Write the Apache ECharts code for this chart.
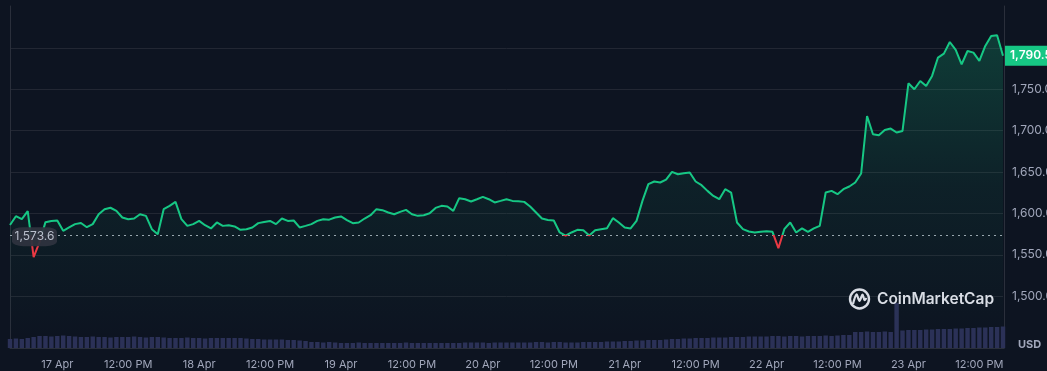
<!DOCTYPE html>
<html><head><meta charset="utf-8">
<script src="https://cdn.jsdelivr.net/npm/echarts@6/dist/echarts.min.js"></script>
<style>html,body{margin:0;padding:0;background:#0d1421;}#c{width:1047px;height:371px;}</style>
</head><body><div id="c"></div>
<script>
// hourly points from 16 Apr 16:00 to 23 Apr 16:00
const startDay = 16, startHour = 16, pointCount = 169;
const categories = [];
for (let i = 0; i < pointCount; i++) {
  const t = startHour + i;
  categories.push((startDay + Math.floor(t / 24)) + ' Apr ' + String(t % 24).padStart(2, '0') + ':00');
}
const prices = [
1586.0,1596.6,1593.0,1602.7,1547.1,1565.2,1589.4,1590.9,1591.5,1578.9,
1583.0,1587.0,1588.4,1583.3,1587.0,1599.0,1605.1,1606.8,1603.0,1595.0,
1593.0,1593.8,1599.0,1597.0,1580.9,1574.9,1605.1,1609.1,1613.9,1593.0,
1584.9,1587.0,1590.9,1585.7,1581.8,1589.0,1584.9,1585.7,1584.2,1580.1,
1580.9,1583.0,1588.2,1589.7,1590.9,1587.0,1593.8,1590.9,1591.4,1583.0,
1584.9,1587.0,1590.9,1593.0,1592.4,1595.0,1596.3,1591.8,1588.2,1589.0,
1593.8,1597.8,1605.1,1603.9,1601.1,1599.0,1601.8,1604.2,1599.0,1597.0,
1597.8,1600.2,1606.6,1609.1,1608.3,1603.0,1618.4,1617.1,1614.4,1617.1,
1619.9,1617.1,1613.2,1615.1,1617.1,1615.1,1614.6,1613.9,1608.3,1601.1,
1593.8,1592.1,1591.4,1576.9,1573.0,1576.9,1580.1,1579.7,1573.2,1579.7,
1580.9,1582.1,1594.2,1589.0,1583.0,1581.8,1590.9,1615.1,1635.3,1638.5,
1637.3,1640.9,1650.1,1647.3,1648.5,1649.4,1638.5,1634.1,1627.2,1621.1,
1617.1,1629.2,1625.2,1589.0,1580.9,1578.1,1576.9,1577.7,1578.5,1577.7,
1558.0,1580.9,1589.0,1576.9,1581.8,1577.7,1581.8,1584.9,1625.2,1627.2,
1623.2,1629.2,1632.5,1637.3,1648.2,1717.7,1695.6,1694.4,1700.8,1702.5,
1697.7,1699.6,1757.2,1750.0,1760.0,1754.0,1766.1,1788.3,1793.1,1807.1,
1797.5,1780.2,1796.2,1794.3,1784.2,1802.3,1814.4,1815.2,1790.5
];
// volume, millions USD
const volumes = [
450,475,450,500,
550,600,600,575,600,625,600,
575,550,550,575,550,550,525,550,550,550,575,550,525,550,550,
525,500,500,500,525,500,500,475,500,500,500,500,500,500,475,
450,450,425,425,425,425,400,400,375,350,
300,300,275,300,275,
250,250,250,275,250,250,250,250,250,250,250,275,250,250,250,250,250,250,250,250,250,275,275,275,275,250,275,275,275,275,
275,275,275,300,300,275,300,300,275,275,275,300,300,300,300,
325,325,325,350,350,375,375,400,400,400,
425,450,450,475,475,500,500,500,525,525,525,550,550,550,575,
575,575,575,600,600,575,600,600,575,600,600,600,625,600,625,650,650,
800,800,825,800,800,825,800,
2250,
875,900,900,900,925,925,950,950,950,975,
975,1000,1000,1025,1025,1050,1050,1075
];
const openPrice = 1573.6;
const lastPrice = 1790.5;
const dayLabels = {17:'17 Apr',18:'18 Apr',19:'19 Apr',20:'20 Apr',21:'21 Apr',22:'22 Apr',23:'23 Apr'};
const noonLabel = '12:00 PM';
const priceLabelRange = [1500, 1750];

const FONT = 'Inter, "Noto Sans", sans-serif';
const labelColor = '#a1a7bb';
const gridColor = '#222733';
const fmt = v => v.toLocaleString('en-US', {minimumFractionDigits: 1, maximumFractionDigits: 1});

const chart = echarts.init(document.getElementById('c'), null, {renderer: 'canvas'});
chart.setOption({
  backgroundColor: '#0d1421',
  animation: false,
  textStyle: {fontFamily: FONT},
  grid: [
    {left: 10, right: 44, top: 6.5, height: 331, outerBoundsMode: 'none', containLabel: false},
    {left: 10, right: 44, top: 298, height: 50, outerBoundsMode: 'none', containLabel: false},
    {left: 10, right: 43, top: 6, height: 342, outerBoundsMode: 'none', containLabel: false}
  ],
  xAxis: [
    {type: 'category', gridIndex: 0, data: categories, boundaryGap: false, show: false},
    {type: 'category', gridIndex: 1, data: categories, boundaryGap: false,
     axisLine: {show: false}, axisTick: {show: false}, splitLine: {show: false},
     axisLabel: {
       color: labelColor, fontSize: 11, fontFamily: FONT, margin: 11, hideOverlap: false,
       interval: (i, v) => { const h = +v.slice(-5, -3); return h === 0 || h === 12; },
       formatter: v => { const h = +v.slice(-5, -3); const d = +v.split(' ')[0]; return h === 0 ? dayLabels[d] : noonLabel; }
     }},
    {type: 'value', gridIndex: 2, position: 'top', min: 0, max: 1, axisLine: {show: true, lineStyle: {color: '#2a2f3b'}},
     axisTick: {show: false}, axisLabel: {show: false}, splitLine: {show: false}}
  ],
  yAxis: [
    {type: 'value', gridIndex: 0, position: 'right', min: 1450, max: 1850, interval: 50,
     axisLine: {show: false}, axisTick: {show: false},
     splitLine: {show: true, showMinLine: false, showMaxLine: false, lineStyle: {color: gridColor, width: 1}},
     axisLabel: {color: labelColor, fontSize: 12, fontFamily: FONT, margin: 9,
       formatter: v => (v >= priceLabelRange[0] && v <= priceLabelRange[1]) ? fmt(v) : ''}},
    {type: 'value', gridIndex: 1, min: 0, max: 2500, show: false},
    {type: 'value', gridIndex: 2, position: 'left', min: 0, max: 1, axisLine: {show: true, lineStyle: {color: '#2a2f3b'}},
     axisTick: {show: false}, axisLabel: {show: false}, splitLine: {show: false}},
    {type: 'value', gridIndex: 2, position: 'right', min: 0, max: 1, axisLine: {show: true, lineStyle: {color: '#2a2f3b'}},
     axisTick: {show: false}, axisLabel: {show: false}, splitLine: {show: false}}
  ],
  visualMap: {
    show: false, type: 'piecewise', seriesIndex: 0, dimension: 1,
    pieces: [{min: 1000, max: openPrice, color: '#ea3943'}, {min: openPrice, max: 3000, color: '#16c784'}],
    outOfRange: {color: '#16c784'}
  },
  series: [
    {
      type: 'line', xAxisIndex: 0, yAxisIndex: 0, data: prices, showSymbol: false, symbol: 'none',
      lineStyle: {width: 2}, z: 5,
      areaStyle: {origin: 'start', color: new echarts.graphic.LinearGradient(0, 0, 0, 1, [
        {offset: 0, color: 'rgba(22,199,132,0.32)'},
        {offset: 0.5, color: 'rgba(22,199,132,0.10)'},
        {offset: 1, color: 'rgba(22,199,132,0.0)'}
      ])},
      markLine: {
        silent: true, symbol: 'none', animation: false,
        lineStyle: {type: [2, 4], color: 'rgba(210,215,225,0.75)', width: 1},
        label: {show: false},
        data: [{yAxis: openPrice}]
      },
      markPoint: {
        silent: true, animation: false, z: 20,
        data: [
          {coord: [0, openPrice], value: openPrice, symbol: 'roundRect', symbolSize: [45, 19], symbolOffset: [24.5, 1.5],
           itemStyle: {color: 'rgba(46,51,62,0.95)'},
           label: {show: true, color: '#b9bfcc', fontSize: 12, fontFamily: FONT, formatter: fmt(openPrice)}},
          {coord: [pointCount - 1, lastPrice], value: lastPrice, symbol: 'rect', symbolSize: [52, 20], symbolOffset: [28, 0],
           itemStyle: {color: '#16c784'},
           label: {show: true, color: '#ffffff', fontSize: 12, fontWeight: 600, fontFamily: FONT, formatter: fmt(lastPrice)}}
        ]
      }
    },
    {
      type: 'bar', xAxisIndex: 1, yAxisIndex: 1, data: volumes, barCategoryGap: '25%',
      itemStyle: {color: '#2b3157'}, silent: true, z: 2
    }
  ],
  graphic: [
    {type: 'circle', shape: {cx: 859.5, cy: 299, r: 9.5}, style: {fill: 'none', stroke: '#d9dde5', lineWidth: 2.4}, z: 10},
    {type: 'polyline', shape: {points: [[853, 304], [856.5, 294.5], [859.5, 301], [862.5, 294.5], [864.5, 300], [866.5, 298]], smooth: 0.3},
     style: {fill: 'none', stroke: '#d9dde5', lineWidth: 2.2}, z: 10},
    {type: 'text', x: 877, y: 299, style: {text: 'CoinMarketCap', fill: '#d9dde5', font: '600 15.5px Inter, "Noto Sans", sans-serif', verticalAlign: 'middle'}, z: 10},
    {type: 'text', x: 1018, y: 345, style: {text: 'USD', fill: labelColor, font: 'bold 11px Inter, "Noto Sans", sans-serif', verticalAlign: 'middle'}, z: 10}
  ]
});
</script>
</body></html>
